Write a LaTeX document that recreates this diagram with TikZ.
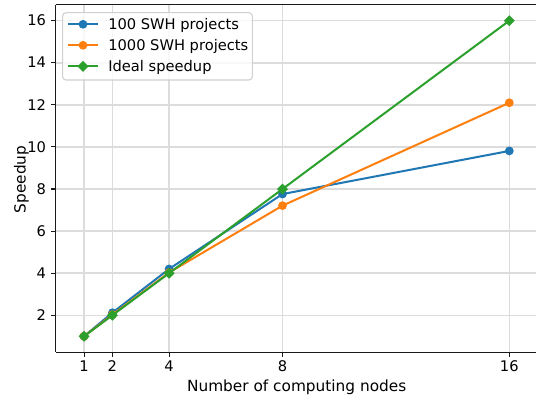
\documentclass[tikz,border=0pt]{standalone}
\usepackage{fontspec}
\setmainfont{DejaVu Sans}
\usetikzlibrary{shapes.geometric}
\definecolor{tabblue}{HTML}{1F77B4}
\definecolor{taborange}{HTML}{FF7F0E}
\definecolor{tabgreen}{HTML}{2CA02C}
\definecolor{gridgray}{HTML}{DCDCDC}
\definecolor{legframe}{HTML}{D0D0D0}
\begin{document}
\begin{tikzpicture}[x=0.75pt,y=-0.75pt,
  gridline/.style={gridgray, line width=1.1pt},
  spine/.style={black!90, line width=0.8pt},
  tickmark/.style={black!90, line width=0.8pt},
  ticklab/.style={font=\fontsize{11}{13}\selectfont, inner sep=0pt},
  labfont/.style={font=\fontsize{11.5}{13}\selectfont, inner sep=0pt},
  legtext/.style={font=\fontsize{11}{13}\selectfont, inner sep=0pt, anchor=base west},
  series/.style={line width=1.5pt, line join=round},
  dot/.style={circle, fill=#1, inner sep=0pt, minimum size=6.6pt},
  dia/.style={diamond, fill=#1, inner sep=0pt, minimum size=8.4pt},
]
\useasboundingbox[fill=white] (0,0) rectangle (536,398);

% ---------- data frame ----------
\begin{scope}[shift={(55.7,357.34)}, x=21.2625pt, y=15.78pt]
  % grid
  \foreach \gx in {1,2,4,8,16} \draw[gridline] (\gx,0.25) -- (\gx,16.75);
  \foreach \gy in {2,4,...,16} \draw[gridline] (0,\gy) -- (16.94,\gy);
  % spines
  \draw[spine] (0,16.75) -- (0,0.25);
  \draw[spine] (0,0.25) -- (16.94,0.25);
  \draw[spine] (0,16.75) -- (16.94,16.75);
  % x ticks + labels
  \foreach \gx in {1,2,4,8,16} {
    \coordinate (xt\gx) at (\gx,0.25);
    \draw[tickmark] (xt\gx) -- ++(0,-4.9*0.75pt);
    \node[ticklab, anchor=base] (xl\gx) at ([yshift=-19.5*0.75pt]xt\gx) {\gx};
  }
  % y ticks + labels
  \foreach \gy in {2,4,...,16} {
    \coordinate (yt\gy) at (0,\gy);
    \draw[tickmark] (yt\gy) -- ++(-4.9*0.75pt,0);
    \node[ticklab, anchor=base east] (yl\gy) at ([xshift=-9.5*0.75pt, yshift=-5.2*0.75pt]yt\gy) {\gy};
  }

  % series: 100 SWH projects
  \coordinate (b1) at (1,1);
  \coordinate (b2) at (2,2.12);
  \coordinate (b4) at (4,4.2);
  \coordinate (b8) at (8,7.76);
  \coordinate (b16) at (16,9.81);
  \draw[series, tabblue] (b1) -- (b2) -- (b4) -- (b8) -- (b16);
  \foreach \p in {b1,b2,b4,b8,b16} \node[dot=tabblue] at (\p) {};

  % series: 1000 SWH projects
  \coordinate (o1) at (1,1);
  \coordinate (o2) at (2,2.03);
  \coordinate (o4) at (4,4.03);
  \coordinate (o8) at (8,7.21);
  \coordinate (o16) at (16,12.1);
  \draw[series, taborange] (o1) -- (o2) -- (o4) -- (o8) -- (o16);
  \foreach \p in {o1,o2,o4,o8,o16} \node[dot=taborange] at (\p) {};

  % series: ideal speedup
  \coordinate (g1) at (1,1);
  \coordinate (g2) at (2,2);
  \coordinate (g4) at (4,4);
  \coordinate (g8) at (8,8);
  \coordinate (g16) at (16,16);
  \draw[series, tabgreen] (g1) -- (g2) -- (g4) -- (g8) -- (g16);
  \foreach \p in {g1,g2,g4,g8,g16} \node[dia=tabgreen] at (\p) {};
\end{scope}

% ---------- axis labels ----------
\node[labfont, anchor=base] (xlabel) at (296.7,391.5) {Number of computing nodes};
\node[labfont, anchor=base, rotate=90] (ylabel) at (25.5,179.5) {Speedup};

% ---------- legend ----------
\draw[legframe, fill=white, fill opacity=0.8, rounded corners=2.5pt, line width=0.8pt]
  (62.7,12.7) rectangle (252.3,80);
\coordinate (la1) at (68,24.3);  \coordinate (lb1) at (98,24.3);
\coordinate (la2) at (68,45.3);  \coordinate (lb2) at (98,45.3);
\coordinate (la3) at (68,66.3);  \coordinate (lb3) at (98,66.3);
\draw[series, tabblue] (la1) -- (lb1);
\node[dot=tabblue] (lm1) at (83,24.3) {};
\draw[series, taborange] (la2) -- (lb2);
\node[dot=taborange] (lm2) at (83,45.3) {};
\draw[series, tabgreen] (la3) -- (lb3);
\node[dia=tabgreen] (lm3) at (83,66.3) {};
\node[legtext] (lt1) at (108,29.5) {100 SWH projects};
\node[legtext] (lt2) at (108,50.5) {1000 SWH projects};
\node[legtext] (lt3) at (108,71.5) {Ideal speedup};
\end{tikzpicture}
\end{document}
